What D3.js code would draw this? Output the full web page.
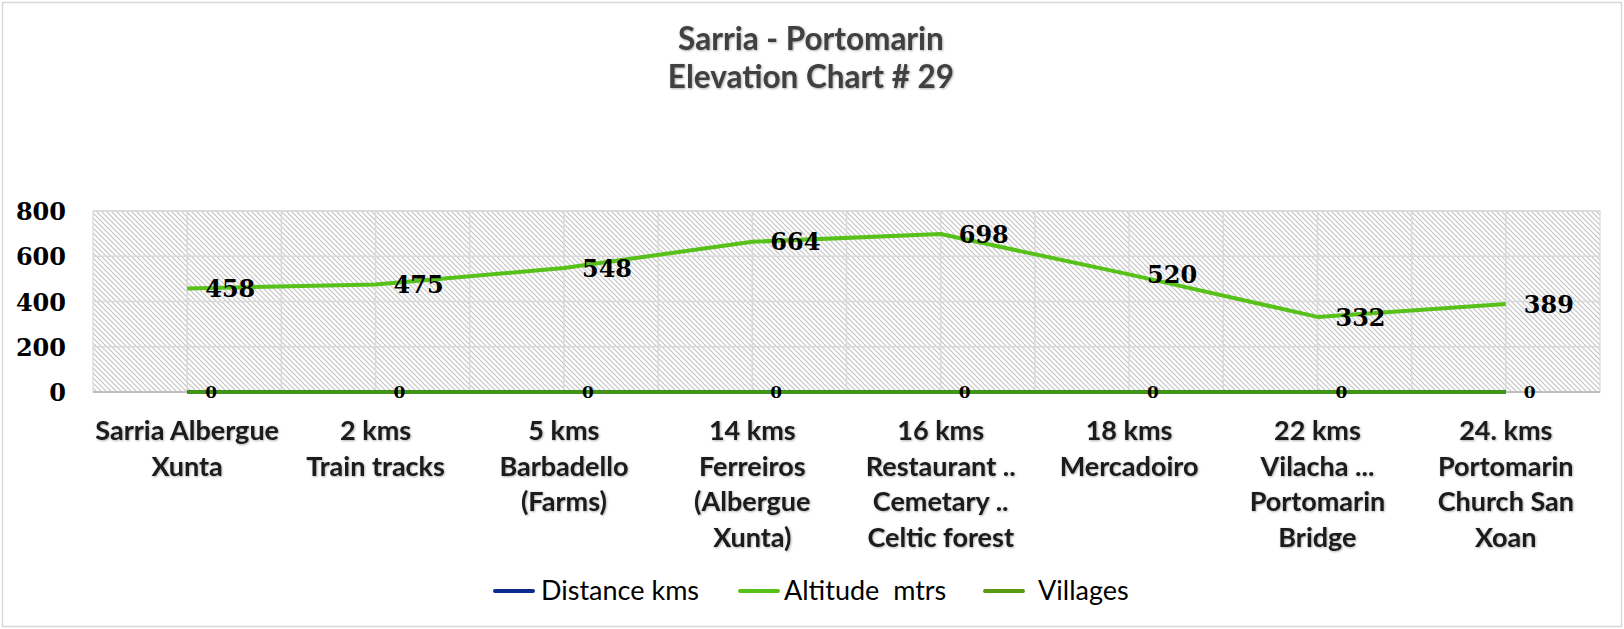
<!DOCTYPE html>
<html>
<head>
<meta charset="utf-8">
<script src="https://cdn.jsdelivr.net/npm/d3@7"></script>
<style>
  html, body { margin: 0; padding: 0; background: #fff; }
  svg { display: block; }
</style>
</head>
<body>
<svg id="chart" width="1624" height="629"></svg>
<script>
// Stage stops along the Sarria - Portomarin walk
const categories = [
  "Sarria Albergue\nXunta",
  "2 kms\nTrain tracks",
  "5 kms\nBarbadello\n(Farms)",
  "14 kms\nFerreiros\n(Albergue\nXunta)",
  "16 kms\nRestaurant ..\nCemetary ..\nCeltic forest",
  "18 kms\nMercadoiro",
  "22 kms\nVilacha ...\nPortomarin\nBridge",
  "24. kms\nPortomarin\nChurch San\nXoan"
];
const distanceKms = [0, 0, 0, 0, 0, 0, 0, 0];
const altitudeMtrs = [458, 475, 548, 664, 698, 520, 332, 389];
const villages = [0, 0, 0, 0, 0, 0, 0, 0];
const yTicks = [0, 200, 400, 600, 800];
const titleLines = ["Sarria - Portomarin", "Elevation Chart # 29"];
const seriesNames = ["Distance kms", "Altitude  mtrs", "Villages"];

const svg = d3.select("#chart");
const W = 1624, H = 629;
const plot = { left: 93, right: 1600, top: 211, bottom: 392 };

const defs = svg.append("defs");
const hatch = defs.append("pattern")
  .attr("id", "hatch")
  .attr("patternUnits", "userSpaceOnUse")
  .attr("width", 5).attr("height", 5);
hatch.append("rect").attr("width", 5).attr("height", 5).attr("fill", "#ffffff");
hatch.append("path")
  .attr("d", "M-1,-1 L6,6 M-1,4 L1,6 M4,-1 L6,1")
  .attr("stroke", "#c4c4c4").attr("stroke-width", 1.2);

const shadow = defs.append("filter").attr("id", "soft")
  .attr("x", "-5%").attr("y", "-20%").attr("width", "110%").attr("height", "140%");
shadow.append("feDropShadow")
  .attr("dx", 0.8).attr("dy", 0.8).attr("stdDeviation", 0.9)
  .attr("flood-color", "#000").attr("flood-opacity", 0.35);

// outer chart frame
svg.append("rect")
  .attr("x", 2.5).attr("y", 2.5).attr("width", W - 5).attr("height", H - 5)
  .attr("fill", "#fff").attr("stroke", "#d9d9d9").attr("stroke-width", 1.5);

const x = d3.scaleBand().domain(categories).range([plot.left, plot.right]).padding(0);
const cx = c => x(c) + x.bandwidth() / 2;
const y = d3.scaleLinear().domain([0, 800]).range([plot.bottom, plot.top]);

// plot area with hatch fill
svg.append("rect")
  .attr("x", plot.left).attr("y", plot.top)
  .attr("width", plot.right - plot.left).attr("height", plot.bottom - plot.top)
  .attr("fill", "url(#hatch)").attr("stroke", "#d9d9d9").attr("stroke-width", 1.2);

// horizontal gridlines
svg.append("g").selectAll("line").data(yTicks.filter(t => t > 0)).join("line")
  .attr("x1", plot.left).attr("x2", plot.right)
  .attr("y1", d => y(d)).attr("y2", d => y(d))
  .attr("stroke", "#d9d9d9").attr("stroke-width", 1.5);

// vertical gridlines at category edges and centres
const vLines = [];
categories.forEach((c, i) => { if (i > 0) vLines.push(x(c)); vLines.push(cx(c)); });
svg.append("g").selectAll("line").data(vLines).join("line")
  .attr("x1", d => d).attr("x2", d => d)
  .attr("y1", plot.top).attr("y2", plot.bottom)
  .attr("stroke", "#d9d9d9").attr("stroke-width", 1.5);

// category axis line
svg.append("line")
  .attr("x1", plot.left).attr("x2", plot.right)
  .attr("y1", y(0)).attr("y2", y(0))
  .attr("stroke", "#bfbfbf").attr("stroke-width", 2);

// y axis labels
const yAxis = d3.axisLeft(y).tickValues(yTicks).tickSize(0).tickPadding(0);
const yg = svg.append("g").attr("transform", "translate(66,0)").call(yAxis);
yg.select(".domain").remove();
yg.selectAll("text")
  .attr("font-family", "'DejaVu Serif', serif").attr("font-weight", "bold")
  .attr("font-size", 24).attr("fill", "#000").attr("dy", "0.36em");

// category labels
const xAxis = d3.axisBottom(x).tickSize(0).tickFormat("");
const xg = svg.append("g").attr("transform", `translate(0,${plot.bottom})`).call(xAxis);
xg.select(".domain").remove();
const catText = svg.append("g").selectAll("text").data(categories).join("text")
  .attr("x", d => cx(d)).attr("y", 440)
  .attr("text-anchor", "middle")
  .attr("font-family", "Lato, sans-serif").attr("font-weight", "bold")
  .attr("font-size", 27).attr("fill", "#1a1a1a")
  .attr("filter", "url(#soft)");
catText.selectAll("tspan").data(d => d.split("\n").map((t, i) => ({ t, i, c: d }))).join("tspan")
  .attr("x", d => cx(d.c)).attr("y", d => 440 + d.i * 35.5)
  .text(d => d.t);

// series lines
const line = d3.line().x((d, i) => cx(categories[i])).y(d => y(d));
svg.append("path").datum(distanceKms).attr("d", line)
  .attr("fill", "none").attr("stroke", "#0d2a8f").attr("stroke-width", 3.5);
svg.append("path").datum(villages).attr("d", line)
  .attr("fill", "none").attr("stroke", "#409a04").attr("stroke-width", 3.5);
svg.append("path").datum(altitudeMtrs).attr("d", line)
  .attr("fill", "none").attr("stroke", "#57c11a").attr("stroke-width", 4)
  .attr("stroke-linejoin", "round");

// data labels
svg.append("g").selectAll("text").data(villages).join("text")
  .attr("x", (d, i) => cx(categories[i]) + 18).attr("y", d => y(d))
  .attr("dy", "0.36em")
  .attr("font-family", "'DejaVu Serif', serif").attr("font-weight", "bold")
  .attr("font-size", 17).attr("fill", "#000")
  .text(d => d);
svg.append("g").selectAll("text").data(altitudeMtrs).join("text")
  .attr("x", (d, i) => cx(categories[i]) + 18).attr("y", d => y(d))
  .attr("dy", "0.36em")
  .attr("font-family", "'DejaVu Serif', serif").attr("font-weight", "bold")
  .attr("font-size", 24).attr("fill", "#000")
  .text(d => d);

// title
svg.append("g").selectAll("text").data(titleLines).join("text")
  .attr("x", 811).attr("y", (d, i) => 50 + i * 38)
  .attr("text-anchor", "middle")
  .attr("font-family", "Lato, sans-serif").attr("font-weight", "bold")
  .attr("font-size", 31.5).attr("fill", "#404040")
  .attr("filter", "url(#soft)")
  .text(d => d);

// legend
const legendColors = ["#0d2a8f", "#57c11a", "#5a9a12"];
const legendX = [495, 740, 985];
const legendGap = [46, 44, 53];
const lg = svg.append("g").selectAll("g").data(seriesNames).join("g")
  .attr("transform", (d, i) => `translate(${legendX[i]},591)`);
lg.append("line").attr("x1", 0).attr("x2", 38).attr("y1", 0).attr("y2", 0)
  .attr("stroke", (d, i) => legendColors[i]).attr("stroke-width", 4)
  .attr("stroke-linecap", "round");
lg.append("text").attr("x", (d, i) => legendGap[i]).attr("y", 0).attr("dy", "0.35em")
  .attr("font-family", "Lato, sans-serif").attr("font-size", 27).attr("fill", "#000")
  .attr("xml:space", "preserve")
  .text(d => d);
</script>
</body>
</html>
